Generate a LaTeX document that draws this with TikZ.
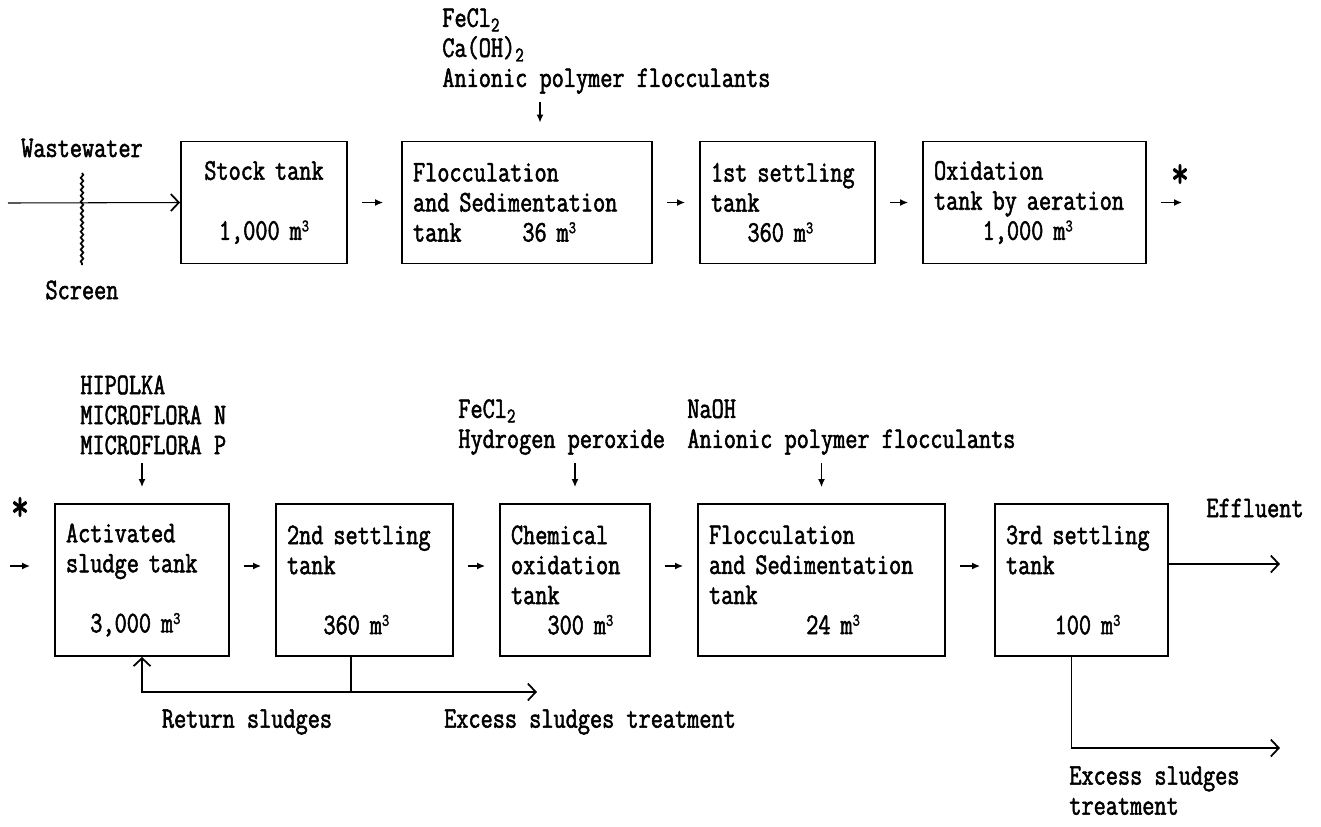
\documentclass[tikz,border=0pt]{standalone}
\usepackage{fontspec}
\setmonofont{Latin Modern Mono}[FakeStretch=0.79,FakeBold=1.8]
\usetikzlibrary{arrows.meta,positioning,calc,decorations.pathmorphing}
\newcommand{\plantfont}{\ttfamily\fontsize{17pt}{17.1pt}\selectfont}
\newcommand{\cbm}{~m\raisebox{0.28em}{\fontsize{10pt}{10pt}\selectfont 3}}
\tikzset{
  tank/.style={rectangle,draw,line width=1.1pt,align=left,inner xsep=0.22cm,inner ysep=0pt,font=\plantfont},
  dose/.style={align=left,inner sep=0pt,anchor=west,font=\plantfont},
  lbl/.style={inner sep=0pt,font=\plantfont},
  gap/.style={-{Latex[length=0.16cm,width=0.14cm]},line width=0.8pt,shorten <=0.28cm,shorten >=0.28cm},
  feed/.style={-{Latex[length=0.16cm,width=0.14cm]},line width=0.8pt,shorten <=0.16cm},
  pipe/.style={line width=1pt,-{Straight Barb[length=0.16cm,width=0.34cm,line width=1pt]}},
}
\begin{document}
\begin{tikzpicture}[x=0.02cm,y=-0.02cm]
  \useasboundingbox (0,0) rectangle (1321,826);
  % first line of tanks
  \node[tank,align=center,text width=2.88cm,minimum height=2.44cm] (stock) at (264,202.5)
    {Stock tank\\[0.6cm]1,000\cbm};
  \node[tank,text width=4.56cm,minimum height=2.44cm] (flocA) at (527,202.5)
    {Flocculation\\and Sedimentation\\tank\phantom{00000}36\cbm};
  \node[tank,text width=3.06cm,minimum height=2.44cm] (set1) at (787.5,202.5)
    {1st settling\\tank\\\phantom{000}360\cbm};
  \node[tank,text width=4.02cm,minimum height=2.44cm] (oxi) at (1034.5,202.5)
    {Oxidation\\tank by aeration\\\phantom{0000}1,000\cbm};
  % second line of tanks
  \node[tank,text width=3.04cm,minimum height=3.04cm] (act) at (142,580)
    {Activated\\sludge tank\\[0.6cm]\phantom{00}3,000\cbm};
  \node[tank,text width=3.10cm,minimum height=3.04cm] (set2) at (364.5,580)
    {2nd settling\\tank\\[0.6cm]\phantom{000}360\cbm};
  \node[tank,text width=2.56cm,minimum height=3.04cm] (chem) at (575,580)
    {Chemical\\oxidation\\tank\\\phantom{000}300\cbm};
  \node[tank,text width=4.50cm,minimum height=3.04cm] (flocB) at (821.5,580)
    {Flocculation\\and Sedimentation\\tank\\\phantom{00000000}24\cbm};
  \node[tank,text width=3.02cm,minimum height=3.04cm] (set3) at (1081.5,580)
    {3rd settling\\tank\\[0.6cm]\phantom{0000}100\cbm};
  % chemicals
  \node[dose] (doseA) at (442,51) {FeCl\textsubscript{2}\\Ca(OH)\textsubscript{2}\\Anionic polymer flocculants};
  \node[dose] (doseB) at (80,415) {HIPOLKA\\MICROFLORA N\\MICROFLORA P};
  \node[dose] (doseC) at (458,427) {FeCl\textsubscript{2}\\Hydrogen peroxide};
  \node[dose] (doseD) at (687,427) {NaOH\\Anionic polymer flocculants};
  % labels
  \node[lbl] (ww) at (82,148) {Wastewater};
  \node[lbl] (scr) at (82,290) {Screen};
  \node[lbl,scale=1.5] (starA) at (1180,176) {*};
  \node[lbl,scale=1.5] (starB) at (20,509) {*};
  \node[lbl] (eff) at (1255,508) {Effluent};
  \node[lbl] (ret) at (247,722) {Return sludges};
  \node[lbl] (exA) at (590,722) {Excess sludges treatment};
  \node[lbl,align=left,anchor=north west] (exB) at (1069,766) {Excess sludges\\treatment};
  % free ends
  \coordinate (inlet) at (8,203);
  \coordinate (scrTop) at (82,173);
  \coordinate (scrBot) at (82,265);
  \coordinate (outA) at (1182,202.5);
  \coordinate (inB1) at (10,566);
  \coordinate (inB2) at (30,566);
  \coordinate (feedA) at ($(flocA.north)+(13,0)$);
  \coordinate (jn) at (351,692);
  \coordinate (xsA) at (537,692);
  \coordinate (xsB) at (1280,748);
  \coordinate (effEnd) at (1280,564);
  % wastewater through the screen
  \draw[pipe,line width=0.6pt] (inlet) -- (stock.west);
  \draw[line width=1pt,decorate,decoration={snake,amplitude=0.7pt,segment length=3.4pt}] (scrTop) -- (scrBot);
  % flow along the lines
  \draw[gap,shorten >=0.36cm] (stock) -- (flocA);
  \draw[gap] (flocA) -- (set1);
  \draw[gap] (set1) -- (oxi);
  \draw[gap,shorten >=0pt] (oxi) -- (outA);
  \draw[feed,shorten <=0pt] (inB1) -- (inB2);
  \draw[gap] ([yshift=0.28cm]act.east) -- ([yshift=0.28cm]set2.west);
  \draw[gap] ([yshift=0.28cm]set2.east) -- ([yshift=0.28cm]chem.west);
  \draw[gap] ([yshift=0.28cm]chem.east) -- ([yshift=0.28cm]flocB.west);
  \draw[gap] ([yshift=0.28cm]flocB.east) -- ([yshift=0.28cm]set3.west);
  % dosing
  \draw[feed,shorten >=0.36cm] (doseA.south -| feedA) -- (feedA);
  \draw[feed,shorten >=0.32cm] (doseB.south -| act.north) -- (act.north);
  \draw[feed,shorten >=0.32cm] (doseC.south -| chem.north) -- (chem.north);
  \draw[feed,shorten >=0.32cm] (doseD.south -| flocB.north) -- (flocB.north);
  % sludges and effluent
  \draw[line width=1pt] (set2.south -| jn) -- (jn);
  \draw[pipe] (jn) -| (act.south);
  \draw[pipe] (jn) -- (xsA);
  \draw[pipe] (set3.east |- effEnd) -- (effEnd);
  \draw[pipe] ([xshift=-0.2cm]set3.south) |- (xsB);
\end{tikzpicture}
\end{document}
